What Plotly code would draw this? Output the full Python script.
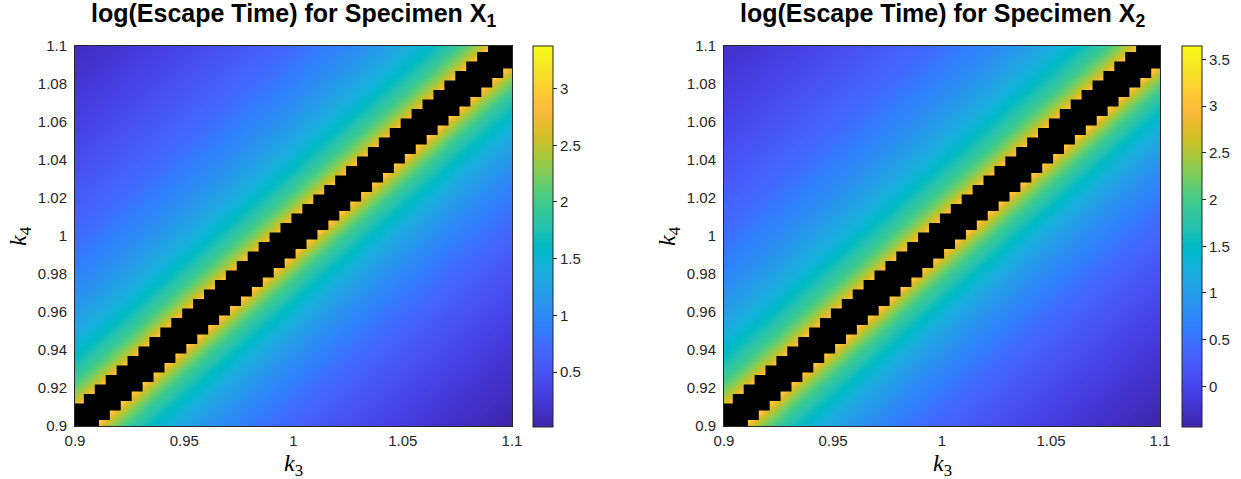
import numpy as np
import plotly.graph_objects as go

# Parameter grid (k3 along x, k4 along y), spacing 0.005
k3 = np.round(np.arange(0.9, 1.1 + 1e-9, 0.005), 3)
k4 = np.round(np.arange(0.9, 1.1 + 1e-9, 0.005), 3)

# log(escape time) versus grid offset n = (k4 - k3) / 0.005, n = 1..40
# Specimen X1
x1_above = [3.38, 2.77, 2.41, 2.16, 1.96, 1.80, 1.66, 1.54, 1.44, 1.35,
            1.26, 1.19, 1.11, 1.05, 0.99, 0.93, 0.88, 0.83, 0.78, 0.73,
            0.69, 0.65, 0.61, 0.57, 0.54, 0.50, 0.47, 0.44, 0.40, 0.37,
            0.35, 0.32, 0.29, 0.26, 0.24, 0.21, 0.19, 0.17, 0.14, 0.12]
x1_below = [3.38, 2.75, 2.38, 2.12, 1.91, 1.75, 1.61, 1.49, 1.38, 1.28,
            1.20, 1.12, 1.04, 0.98, 0.91, 0.85, 0.80, 0.75, 0.70, 0.65,
            0.61, 0.56, 0.52, 0.49, 0.45, 0.41, 0.38, 0.35, 0.31, 0.28,
            0.25, 0.22, 0.19, 0.17, 0.14, 0.12, 0.09, 0.07, 0.04, 0.02]
# Specimen X2
x2_above = [3.65, 2.93, 2.50, 2.19, 1.95, 1.76, 1.60, 1.46, 1.33, 1.22,
            1.12, 1.03, 0.94, 0.86, 0.79, 0.72, 0.66, 0.60, 0.54, 0.48,
            0.43, 0.38, 0.34, 0.29, 0.25, 0.21, 0.17, 0.13, 0.09, 0.06,
            0.02, -0.01, -0.05, -0.08, -0.11, -0.14, -0.17, -0.20, -0.22, -0.25]
x2_below = [3.65, 2.88, 2.43, 2.12, 1.87, 1.67, 1.50, 1.35, 1.22, 1.10,
            1.00, 0.90, 0.81, 0.73, 0.66, 0.58, 0.52, 0.45, 0.39, 0.34,
            0.28, 0.23, 0.18, 0.14, 0.09, 0.05, 0.00, -0.04, -0.07, -0.11,
            -0.15, -0.18, -0.22, -0.25, -0.28, -0.31, -0.34, -0.37, -0.40, -0.43]

titles = ["log(Escape Time) for Specimen X<sub>1</sub>",
          "log(Escape Time) for Specimen X<sub>2</sub>"]
x_ticks = [0.9, 0.95, 1, 1.05, 1.1]
y_ticks = [0.9, 0.92, 0.94, 0.96, 0.98, 1, 1.02, 1.04, 1.06, 1.08, 1.1]
cbar_ticks = [[0.5, 1, 1.5, 2, 2.5, 3], [0, 0.5, 1, 1.5, 2, 2.5, 3, 3.5]]

# MATLAB parula (64 entries)
PARULA = [
    (0.2422, 0.1504, 0.6603), (0.2504, 0.1650, 0.7076), (0.2578, 0.1818, 0.7511),
    (0.2647, 0.1978, 0.7952), (0.2706, 0.2147, 0.8364), (0.2751, 0.2342, 0.8710),
    (0.2783, 0.2559, 0.8991), (0.2803, 0.2782, 0.9221), (0.2813, 0.3006, 0.9414),
    (0.2810, 0.3228, 0.9579), (0.2795, 0.3447, 0.9717), (0.2760, 0.3667, 0.9829),
    (0.2699, 0.3892, 0.9906), (0.2602, 0.4123, 0.9952), (0.2440, 0.4358, 0.9988),
    (0.2206, 0.4603, 0.9973), (0.1963, 0.4847, 0.9892), (0.1834, 0.5074, 0.9798),
    (0.1786, 0.5289, 0.9682), (0.1764, 0.5499, 0.9520), (0.1687, 0.5703, 0.9359),
    (0.1540, 0.5902, 0.9218), (0.1460, 0.6091, 0.9079), (0.1380, 0.6276, 0.8973),
    (0.1248, 0.6459, 0.8883), (0.1113, 0.6635, 0.8763), (0.0952, 0.6798, 0.8598),
    (0.0689, 0.6948, 0.8394), (0.0297, 0.7082, 0.8163), (0.0036, 0.7203, 0.7917),
    (0.0067, 0.7312, 0.7660), (0.0433, 0.7411, 0.7394), (0.0964, 0.7500, 0.7120),
    (0.1408, 0.7584, 0.6842), (0.1717, 0.7670, 0.6554), (0.1938, 0.7758, 0.6251),
    (0.2161, 0.7843, 0.5923), (0.2470, 0.7918, 0.5567), (0.2906, 0.7973, 0.5188),
    (0.3406, 0.8008, 0.4789), (0.3909, 0.8029, 0.4354), (0.4456, 0.8024, 0.3909),
    (0.5044, 0.7993, 0.3480), (0.5616, 0.7942, 0.3045), (0.6174, 0.7876, 0.2612),
    (0.6720, 0.7793, 0.2227), (0.7242, 0.7698, 0.1910), (0.7738, 0.7598, 0.1646),
    (0.8203, 0.7498, 0.1535), (0.8634, 0.7406, 0.1596), (0.9035, 0.7330, 0.1774),
    (0.9393, 0.7288, 0.2100), (0.9728, 0.7298, 0.2394), (0.9956, 0.7434, 0.2371),
    (0.9970, 0.7659, 0.2199), (0.9952, 0.7893, 0.2028), (0.9892, 0.8136, 0.1885),
    (0.9786, 0.8386, 0.1766), (0.9676, 0.8639, 0.1643), (0.9610, 0.8890, 0.1537),
    (0.9597, 0.9135, 0.1423), (0.9628, 0.9373, 0.1265), (0.9691, 0.9606, 0.1064),
    (0.9769, 0.9839, 0.0805)]
colorscale = [[i / (len(PARULA) - 1),
               "rgb(%d,%d,%d)" % tuple(round(255 * c) for c in rgb)]
              for i, rgb in enumerate(PARULA)]


def build_grid(above, below):
    """Fill the k4-by-k3 grid from the values at each diagonal offset."""
    z = []
    for i in range(len(k4)):
        row = []
        for j in range(len(k3)):
            n = i - j
            if n > 0:
                row.append(above[n - 1])
            elif n < 0:
                row.append(below[-n - 1])
            else:
                row.append(max(above[0], below[0]))  # never escapes: covered by markers
        z.append(row)
    return z


# points on the diagonal where the escape time is infinite
trap_k3 = [k3[j] for i in range(len(k4)) for j in range(len(k3)) if i == j]
trap_k4 = [k4[i] for i in range(len(k4)) for j in range(len(k3)) if i == j]

W, H = 1241, 479
plot_x = [(75, 512), (724, 1160)]
plot_top, plot_bot = 46, 426
cbar_left = [533, 1182]
ink = "#262626"
tickfont = dict(family="Liberation Sans, Arial, sans-serif", size=15, color=ink)

fig = go.Figure()
series = [(x1_above, x1_below), (x2_above, x2_below)]
for idx, (above, below) in enumerate(series):
    xa = "x" if idx == 0 else "x2"
    ya = "y" if idx == 0 else "y2"
    fig.add_trace(go.Heatmap(
        x=k3, y=k4, z=build_grid(above, below),
        colorscale=colorscale, zsmooth="best", xaxis=xa, yaxis=ya,
        hoverinfo="skip",
        colorbar=dict(
            x=cbar_left[idx] / W, xanchor="left", xpad=0,
            y=1 - (plot_top + plot_bot) / 2 / H, yanchor="middle", ypad=0,
            len=plot_bot - plot_top + 1, lenmode="pixels",
            thickness=20, thicknessmode="pixels",
            outlinecolor=ink, outlinewidth=1,
            tickvals=cbar_ticks[idx], ticks="outside", ticklen=4,
            tickcolor=ink, tickfont=tickfont,
        ),
    ))
    fig.add_trace(go.Scatter(
        x=trap_k3, y=trap_k4, mode="markers", xaxis=xa, yaxis=ya,
        marker=dict(symbol="square", size=26, color="black", line=dict(width=0)),
        hoverinfo="skip", showlegend=False, cliponaxis=True,
    ))

axis_common = dict(range=[0.9, 1.1], showgrid=False, zeroline=False,
                   showline=True, linecolor=ink, linewidth=1, mirror=True,
                   ticks="", tickfont=tickfont, automargin=False)
for idx in range(2):
    x0, x1 = plot_x[idx]
    sx = "" if idx == 0 else "2"
    fig.layout["xaxis" + sx] = dict(
        axis_common, domain=[x0 / W, x1 / W], tickvals=x_ticks,
        ticktext=["0.9", "0.95", "1", "1.05", "1.1"],
        anchor="y" + sx, ticklabelstandoff=1)
    fig.layout["yaxis" + sx] = dict(
        axis_common, domain=[1 - plot_bot / H, 1 - plot_top / H], tickvals=y_ticks,
        ticktext=["0.9", "0.92", "0.94", "0.96", "0.98", "1", "1.02", "1.04",
                  "1.06", "1.08", "1.1"],
        anchor="x" + sx, ticklabelstandoff=4)

annotations = []
label_font = dict(family="Liberation Serif, Times New Roman, serif", size=24, color="black")
for idx in range(2):
    x0, x1 = plot_x[idx]
    cx = (x0 + x1) / 2 / W
    annotations.append(dict(
        text="<b>" + titles[idx] + "</b>", x=cx, y=1 + 3 / H,
        xref="paper", yref="paper", xanchor="center", yanchor="top",
        showarrow=False,
        font=dict(family="Liberation Sans, Arial, sans-serif", size=25, color="black")))
    annotations.append(dict(
        text="<i>k</i><sub>3</sub>", x=cx, y=-2 / H,
        xref="paper", yref="paper", xanchor="center", yanchor="bottom",
        showarrow=False, font=label_font, borderpad=0))
    annotations.append(dict(
        text="<i>k</i><sub>4</sub>", x=(x0 - 55) / W, y=1 - (plot_top + plot_bot) / 2 / H,
        xref="paper", yref="paper", xanchor="center", yanchor="middle",
        textangle=-90, showarrow=False, font=label_font))

fig.update_layout(
    width=W, height=H, margin=dict(l=0, r=0, t=0, b=0, autoexpand=False),
    paper_bgcolor="white", plot_bgcolor="white",
    showlegend=False, annotations=annotations,
)

fig.write_html("out.html")
